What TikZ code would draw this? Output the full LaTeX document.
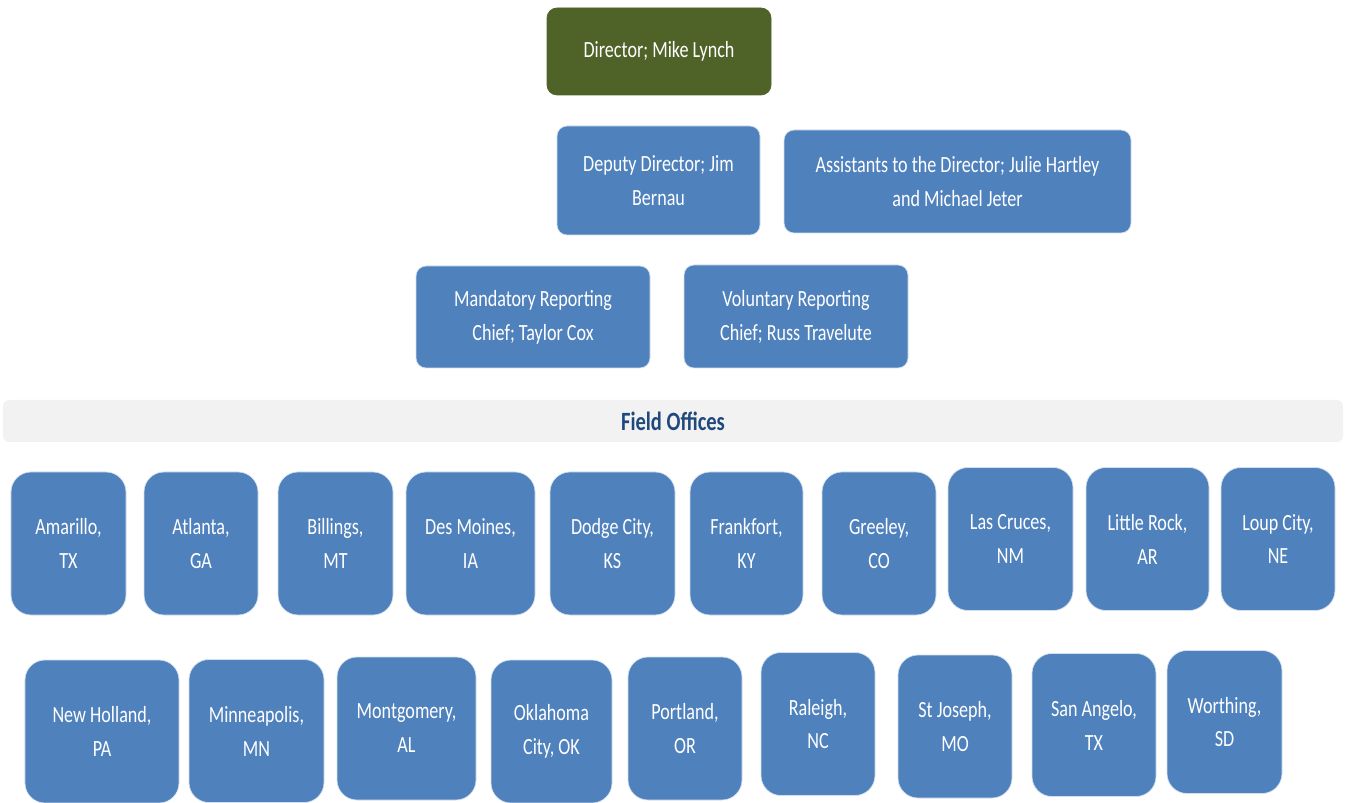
\documentclass[tikz,border=0pt]{standalone}
\usepackage{fontspec}
\setmainfont{Carlito}[FakeStretch=0.78]
\definecolor{dirfill}{HTML}{4F6228}
\definecolor{boxfill}{HTML}{4F81BD}
\definecolor{barfill}{HTML}{F2F2F2}
\definecolor{bartext}{HTML}{1F497D}

\begin{document}
\begin{tikzpicture}[
  base/.style={rectangle, align=center, text=white, draw=white!75!boxfill, line width=0.4pt,
               font=\fontsize{13.2}{19.3}\selectfont},
  dir/.style={base, fill=dirfill, draw=dirfill, rounded corners=0.2cm},
  staff/.style={base, fill=boxfill, rounded corners=0.2cm},
  office/.style={base, fill=boxfill, rounded corners=0.4cm, minimum height=2.86cm},
  bar/.style={rectangle, fill=barfill, rounded corners=0.12cm, text=bartext,
              font=\fontsize{15}{18}\selectfont\bfseries},
]
\useasboundingbox (0,0) rectangle (26.9,-16.06);
% headquarters
\node[dir, minimum width=4.48cm, minimum height=1.74cm] (director) at (13.18,-1.03) {Director; Mike Lynch};
\node[staff, minimum width=4.06cm, minimum height=2.18cm] (deputy) at (13.17,-3.61) {Deputy Director; Jim\\Bernau};
\node[staff, minimum width=6.94cm, minimum height=2.06cm] (assist) at (19.15,-3.63) {Assistants to the Director; Julie Hartley\\and Michael Jeter};
\node[staff, minimum width=4.68cm, minimum height=2.04cm] (mandatory) at (10.66,-6.34) {Mandatory Reporting\\Chief; Taylor Cox};
\node[staff, minimum width=4.48cm, minimum height=2.06cm] (voluntary) at (15.92,-6.33) {Voluntary Reporting\\Chief; Russ Travelute};
\node[bar, minimum width=26.8cm, minimum height=0.84cm] (field) at (13.46,-8.42) {Field Offices};
% field offices, first row
\node[office, minimum width=2.30cm] (amarillo)   at ( 1.37,-10.87) {Amarillo,\\TX};
\node[office, minimum width=2.28cm] (atlanta)    at ( 4.02,-10.87) {Atlanta,\\GA};
\node[office, minimum width=2.30cm] (billings)   at ( 6.71,-10.87) {Billings,\\MT};
\node[office, minimum width=2.58cm] (desmoines)  at ( 9.41,-10.87) {Des Moines,\\IA};
\node[office, minimum width=2.50cm] (dodgecity)  at (12.25,-10.87) {Dodge City,\\KS};
\node[office, minimum width=2.26cm] (frankfort)  at (14.93,-10.87) {Frankfort,\\KY};
\node[office, minimum width=2.28cm] (greeley)    at (17.58,-10.87) {Greeley,\\CO};
\node[office, minimum width=2.50cm] (lascruces)  at (20.21,-10.78) {Las Cruces,\\NM};
\node[office, minimum width=2.46cm] (littlerock) at (22.95,-10.78) {Little Rock,\\AR};
\node[office, minimum width=2.28cm] (loupcity)   at (25.56,-10.78) {Loup City,\\NE};
% field offices, second row
\node[office, minimum width=3.08cm] (newholland) at ( 2.04,-14.63) {New Holland,\\PA};
\node[office, minimum width=2.70cm] (minneapolis) at ( 5.13,-14.62) {Minneapolis,\\MN};
\node[office, minimum width=2.78cm] (montgomery) at ( 8.13,-14.57) {Montgomery,\\AL};
\node[office, minimum width=2.42cm] (oklahoma)   at (11.03,-14.63) {Oklahoma\\City, OK};
\node[office, minimum width=2.28cm] (portland)   at (13.70,-14.57) {Portland,\\OR};
\node[office, minimum width=2.28cm] (raleigh)    at (16.36,-14.48) {Raleigh,\\NC};
\node[office, minimum width=2.28cm] (stjoseph)   at (19.10,-14.53) {St Joseph,\\MO};
\node[office, minimum width=2.48cm] (sanangelo)  at (21.88,-14.50) {San Angelo,\\TX};
\node[office, minimum width=2.30cm] (worthing)   at (24.49,-14.44) {Worthing,\\SD};
\end{tikzpicture}
\end{document}
